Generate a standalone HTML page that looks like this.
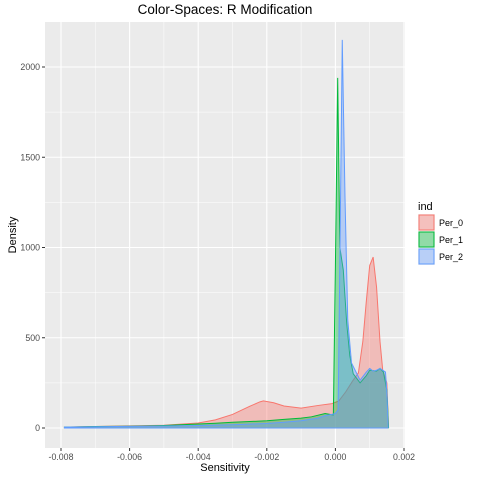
<!DOCTYPE html>
<html><head><meta charset="utf-8"><style>
body{margin:0;background:#fff;font-family:"Liberation Sans",sans-serif}
</style></head><body>
<svg width="480" height="480" xmlns="http://www.w3.org/2000/svg" font-family="Liberation Sans, sans-serif">
<rect x="0" y="0" width="480" height="480" fill="#fff"/>
<rect x="45" y="22" width="360" height="426" fill="#EBEBEB"/>
<g id="grid"></g>
<g id="series"></g>
<g id="axes"></g>
<text x="225" y="14" text-anchor="middle" font-size="13.5" fill="#000">Color-Spaces: R Modification</text>
<text x="225" y="471" text-anchor="middle" font-size="11" fill="#000">Sensitivity</text>
<text x="0" y="0" transform="translate(16,235) rotate(-90)" text-anchor="middle" font-size="11" fill="#000">Density</text>
<g>
<text x="418" y="210" font-size="11">ind</text>
<g><rect x="418" y="214" width="17" height="17" fill="#F2F2F2"/><rect x="419" y="215" width="15" height="15" fill="#F8766D" fill-opacity="0.4" stroke="#F8766D"/><text x="439" y="226" font-size="9">Per_0</text></g>
<g><rect x="418" y="231" width="17" height="17" fill="#F2F2F2"/><rect x="419" y="232" width="15" height="15" fill="#00BA38" fill-opacity="0.4" stroke="#00BA38"/><text x="439" y="243" font-size="9">Per_1</text></g>
<g><rect x="418" y="248" width="17" height="17" fill="#F2F2F2"/><rect x="419" y="249" width="15" height="15" fill="#619CFF" fill-opacity="0.4" stroke="#619CFF"/><text x="439" y="260" font-size="9">Per_2</text></g>
</g>
</svg>
<script>
const xTicks=[-0.008,-0.006,-0.004,-0.002,0,0.002];
const xTickLabels=["-0.008","-0.006","-0.004","-0.002","0.000","0.002"];
const yTicks=[0,500,1000,1500,2000];
const yTickLabels=["0","500","1000","1500","2000"];
const seriesNames=["Per_0","Per_1","Per_2"];
const per0X=[-0.0079,-0.007,-0.006,-0.005,-0.004,-0.0035,-0.003,-0.0025,-0.0022,-0.0021,-0.0018,-0.0015,-0.001,-0.0005,-0.0001,0.0001,0.0003,0.0005,0.00067,0.0008,0.0009,0.001,0.0011,0.0012,0.0013,0.00138,0.0014,0.0015,0.00155];
const per0Y=[5,8,12,15,28,45,75,120,145,150,140,122,110,125,135,150,200,260,305,480,700,900,947,780,480,320,310,250,0];
const per1X=[-0.0079,-0.007,-0.006,-0.005,-0.0045,-0.004,-0.0035,-0.003,-0.0025,-0.002,-0.0015,-0.001,-0.0007,-0.0003,-0.00006,0.0,0.000067,0.00013,0.00023,0.00033,0.00042,0.00052,0.00072,0.0009,0.001,0.0012,0.0013,0.0014,0.0015,0.00155];
const per1Y=[5,8,10,14,18,22,26,32,36,40,48,55,62,80,72,900,1940,1000,875,580,400,300,250,290,320,315,330,310,210,0];
const per2X=[-0.0079,-0.007,-0.006,-0.005,-0.004,-0.003,-0.002,-0.0015,-0.001,-0.0005,-0.0003,0.0,0.00008,0.00014,0.0002,0.00028,0.00036,0.00047,0.00072,0.0009,0.001,0.0011,0.0012,0.0013,0.00146,0.0015,0.00154];
const per2Y=[5,7,9,11,14,18,25,32,40,55,68,80,100,1100,2150,1280,600,360,265,310,330,315,320,330,310,200,0];
const colors=["#F8766D","#00BA38","#619CFF"];
const NS="http://www.w3.org/2000/svg";
const X0=45,X1=405,Y0=448,Y1=22;
function sx(v){return 61+(v-(-0.008))*34300;}
function sy(v){return 428-v*0.1805;}
const grid=document.getElementById('grid'),axes=document.getElementById('axes'),ser=document.getElementById('series');
function line(p,x1,y1,x2,y2,c,w){const l=document.createElementNS(NS,'line');l.setAttribute('x1',x1);l.setAttribute('y1',y1);l.setAttribute('x2',x2);l.setAttribute('y2',y2);l.setAttribute('stroke',c);l.setAttribute('stroke-width',w);p.appendChild(l);return l;}
for(let i=0;i<xTicks.length-1;i++){const m=sx((xTicks[i]+xTicks[i+1])/2);const g=line(grid,m,Y1,m,Y0,'#fff',0.5);}
for(let i=0;i<yTicks.length;i++){const m=sy(yTicks[i]+250);if(m>Y1){const g=line(grid,X0,m,X1,m,'#fff',0.5);}}
xTicks.forEach((t,i)=>{const x=sx(t);const g=line(grid,x,Y1,x,Y0,'#fff',1.1);
const tk=line(axes,x,Y0,x,Y0+3,'#333',1);
const tx=document.createElementNS(NS,'text');tx.setAttribute('x',x);tx.setAttribute('y',Y0+12);tx.setAttribute('text-anchor','middle');tx.setAttribute('font-size','8.8');tx.setAttribute('fill','#4D4D4D');tx.textContent=xTickLabels[i];


axes.appendChild(tx);});
yTicks.forEach((t,i)=>{const y=sy(t);const g=line(grid,X0,y,X1,y,'#fff',1.1);
const tk=line(axes,X0-3,y,X0,y,'#333',1);
const tx=document.createElementNS(NS,'text');tx.setAttribute('x',X0-5);tx.setAttribute('y',y+3);tx.setAttribute('text-anchor','end');tx.setAttribute('font-size','8.8');tx.setAttribute('fill','#4D4D4D');tx.textContent=yTickLabels[i];


axes.appendChild(tx);});
const data=[[per0X,per0Y],[per1X,per1Y],[per2X,per2Y]];
data.forEach((d,k)=>{const xs=d[0],ys=d[1];
let p='M'+sx(xs[0])+','+sy(0);
for(let i=0;i<xs.length;i++)p+=' L'+sx(xs[i]).toFixed(2)+','+sy(ys[i]).toFixed(2);
p+=' L'+sx(xs[xs.length-1])+','+sy(0)+' Z';
const path=document.createElementNS(NS,'path');path.setAttribute('d',p);path.setAttribute('fill',colors[k]);path.setAttribute('fill-opacity','0.4');path.setAttribute('stroke',colors[k]);path.setAttribute('stroke-width','1');


ser.appendChild(path);});
</script>
</body></html>
